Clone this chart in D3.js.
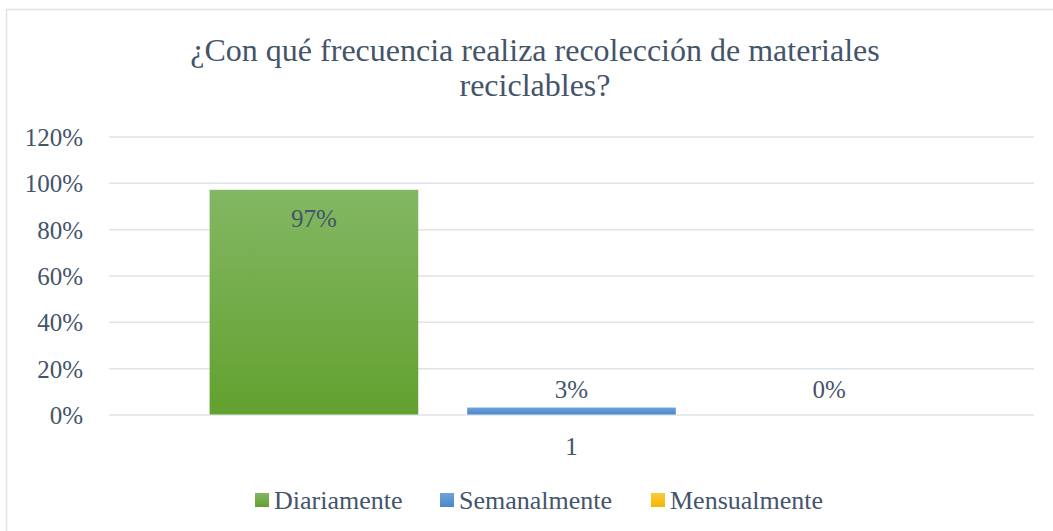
<!DOCTYPE html>
<html>
<head>
<meta charset="utf-8">
<script src="https://cdn.jsdelivr.net/npm/d3@7"></script>
<style>
  body { margin: 0; background: #fff; }
  svg { display: block; font-family: "Liberation Serif", "Times New Roman", serif; }
</style>
</head>
<body>
<div id="chart"></div>
<script>
"use strict"
var width = 1053,
	height = 531;

// data
var categories = ["1"];
var series = ["Diariamente", "Semanalmente", "Mensualmente"];
var values = [0.97, 0.03, 0];
var yTicks = [0, 0.2, 0.4, 0.6, 0.8, 1.0, 1.2];
var titleLines = ["¿Con qué frecuencia realiza recolección de materiales", "reciclables?"];
var colors = [["#83b763", "#62a12f"], ["#6ea2dc", "#4a87cb"], ["#ffc93b", "#f0b800"]];

var textColor = "#44546a";
var gridColor = "#dfe3ea";

var svg = d3.select("#chart").append("svg")
	.attr("width", width)
	.attr("height", height);

// gradients for the bars
var defs = svg.append("defs");
colors.forEach(function (c, i) {
	var g = defs.append("linearGradient")
		.attr("id", "grad" + i)
		.attr("x1", 0).attr("y1", 0).attr("x2", 0).attr("y2", 1);
	g.append("stop").attr("offset", "0%").attr("stop-color", c[0]);
	g.append("stop").attr("offset", "100%").attr("stop-color", c[1]);
});

// chart area border
svg.append("rect")
	.attr("x", 6.5).attr("y", 9.5)
	.attr("width", width + 20).attr("height", height + 20)
	.style("fill", "none")
	.style("stroke", gridColor)
	.style("stroke-width", 1.5);

var plot = {left: 109, right: 1034, top: 137, bottom: 415};

var y = d3.scaleLinear().domain([0, 1.2]).range([plot.bottom, plot.top]);
var x0 = d3.scaleBand().domain(categories).range([plot.left, plot.right]).paddingInner(0).paddingOuter(0.139);
var x1 = d3.scaleBand().domain(series).range([0, x0.bandwidth()]).paddingInner(0.19);

// title
svg.append("g").selectAll("text")
	.data(titleLines)
	.join("text")
	.attr("x", 535)
	.attr("y", function (d, i) { return 61 + i * 35; })
	.attr("text-anchor", "middle")
	.style("font-size", "32px")
	.style("fill", textColor)
	.text(function (d) { return d; });

// gridlines
svg.append("g").selectAll("line")
	.data(yTicks)
	.join("line")
	.attr("x1", plot.left).attr("x2", plot.right)
	.attr("y1", function (d) { return y(d); })
	.attr("y2", function (d) { return y(d); })
	.style("stroke", gridColor)
	.style("stroke-width", 1.5);

// y axis labels
var yAxis = d3.axisLeft(y).tickValues(yTicks).tickFormat(d3.format(".0%")).tickSize(0).tickPadding(0);
var gy = svg.append("g").attr("transform", "translate(83,0)").call(yAxis);
gy.select(".domain").remove();
gy.selectAll("text")
	.style("font-family", "'Liberation Serif', serif")
	.style("font-size", "25px")
	.style("fill", textColor)
	.attr("dy", "0.34em");

// category axis label
var xAxis = d3.axisBottom(x0).tickSize(0).tickPadding(0);
var gx = svg.append("g").attr("transform", "translate(0,455)").call(xAxis);
gx.select(".domain").remove();
gx.selectAll("text")
	.style("font-family", "'Liberation Serif', serif")
	.style("font-size", "25px")
	.style("fill", textColor)
	.attr("y", 0)
	.attr("dy", 0);

// bars
var group = svg.append("g")
	.selectAll("g")
	.data(categories)
	.join("g")
	.attr("transform", function (d) { return "translate(" + x0(d) + ",0)"; });

var barData = series.map(function (s, i) { return {s: s, v: values[i], i: i}; });

group.selectAll("rect")
	.data(barData)
	.join("rect")
	.attr("x", function (d) { return x1(d.s); })
	.attr("y", function (d) { return y(d.v) - 0.5; })
	.attr("width", x1.bandwidth())
	.attr("height", function (d) { return y(0) - y(d.v); })
	.style("fill", function (d) { return "url(#grad" + d.i + ")"; });

// data labels
group.selectAll("text.lbl")
	.data(barData)
	.join("text")
	.attr("class", "lbl")
	.attr("x", function (d) { return x1(d.s) + x1.bandwidth() / 2; })
	.attr("y", function (d) {
		if (d.v > 0.5) return y(d.v) + 37;
		return Math.min(y(d.v) - 10, y(0) - 17);
	})
	.attr("text-anchor", "middle")
	.style("font-size", "25px")
	.style("fill", textColor)
	.text(function (d) { return d3.format(".0%")(d.v); });

// legend
var legendX = [255, 440, 651];
var legend = svg.append("g").selectAll("g")
	.data(series)
	.join("g")
	.attr("transform", function (d, i) { return "translate(" + legendX[i] + ",493)"; });
legend.append("rect")
	.attr("width", 14).attr("height", 14)
	.style("fill", function (d, i) { return "url(#grad" + i + ")"; });
legend.append("text")
	.attr("x", 19).attr("y", 16)
	.style("font-size", "26px")
	.style("fill", textColor)
	.text(function (d) { return d; });
</script>
</body>
</html>
